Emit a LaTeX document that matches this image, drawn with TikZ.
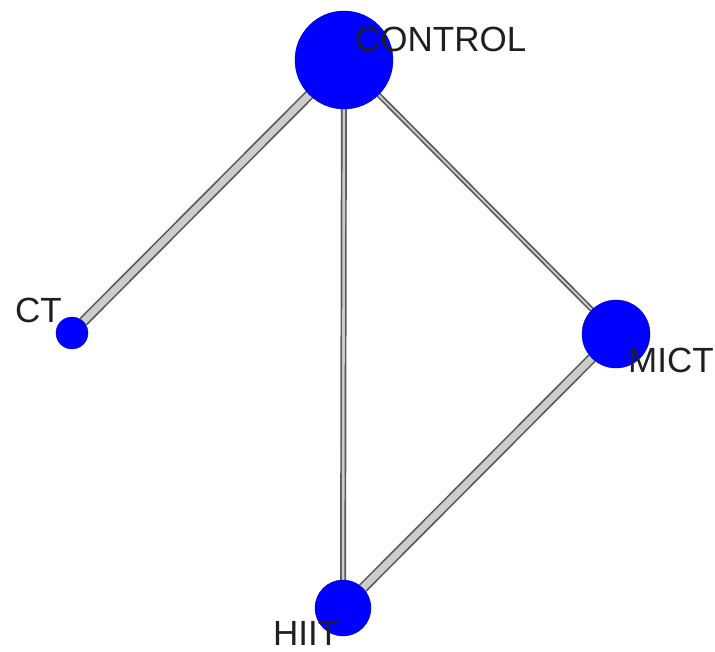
\documentclass[tikz,border=0pt]{standalone}
\usepackage{fontspec}
\setmainfont{Liberation Sans}
\usetikzlibrary{backgrounds}
\tikzset{
  trt/.style={circle,fill=blue,draw=blue!80!black,inner sep=0pt},
  lbl/.style={anchor=base west,inner sep=0pt,text=black!88,font=\fontsize{35}{35}\selectfont},
  tube/.style={draw=black!65,double=black!20,double distance=#1,line width=1.7pt}
}
\begin{document}
\begin{tikzpicture}[x=1pt,y=-1pt]
        \useasboundingbox (0,0) rectangle (715,652);
        \node[trt,minimum size=98pt](control)at(344,60){};
        \node[trt,minimum size=32pt](ct)at(72,333){};
        \node[trt,minimum size=68pt](mict)at(616,334){};
        \node[trt,minimum size=56pt](hiit)at(343,608){};
        \begin{scope}[on background layer]
        \draw[tube=7pt](control)--(ct);
        \draw[tube=2.6pt](control)--(hiit);
        \draw[tube=1.8pt](control)--(mict);
        \draw[tube=7pt](mict)--(hiit);
        \end{scope}
        \node[lbl](lcontrol)at(355,52){CONTROL};
        \node[lbl](lct)at(15,323){CT};
        \node[lbl](lmict)at(628,373){MICT};
        \node[lbl](lhiit)at(273,645){HIIT};
    \end{tikzpicture}
\end{document}
